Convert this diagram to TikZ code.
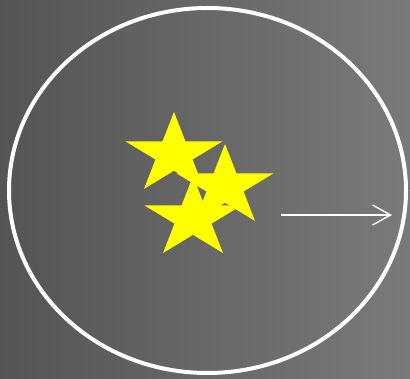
\documentclass[tikz,border=0pt]{standalone}
\usetikzlibrary{arrows.meta}
\definecolor{bgleft}{RGB}{84,84,84}
\definecolor{bgright}{RGB}{122,122,122}
\definecolor{staryellow}{RGB}{255,255,0}
\newcommand{\fivestar}[1]{%
	\fill[staryellow, shift={#1}, xscale=51, yscale=42.5]
		plot[samples at={0,...,9}] ({90+36*\x}:{ifthenelse(mod(\x,2)==0,1,0.382)}) -- cycle;}
\begin{document}
\begin{tikzpicture}[x=1pt, y=1pt]
			\shade[left color=bgleft, right color=bgright] (0,0) rectangle (410,379);
			\useasboundingbox (0,0) rectangle (410,379);
			\draw[white, line width=4pt] (207.5,188.5) ellipse [x radius=198.5, y radius=182.5];
			\fivestar{(174,224.5)}
			\fivestar{(225,192.5)}
			\fivestar{(193,160.4)}
			\coordinate (tail) at (281,164);
			\coordinate (head) at (392,164);
			\draw[-{Straight Barb[length=18pt, width=20pt]}, white, line width=1.4pt] (tail) -- (head);
		\end{tikzpicture}
\end{document}
